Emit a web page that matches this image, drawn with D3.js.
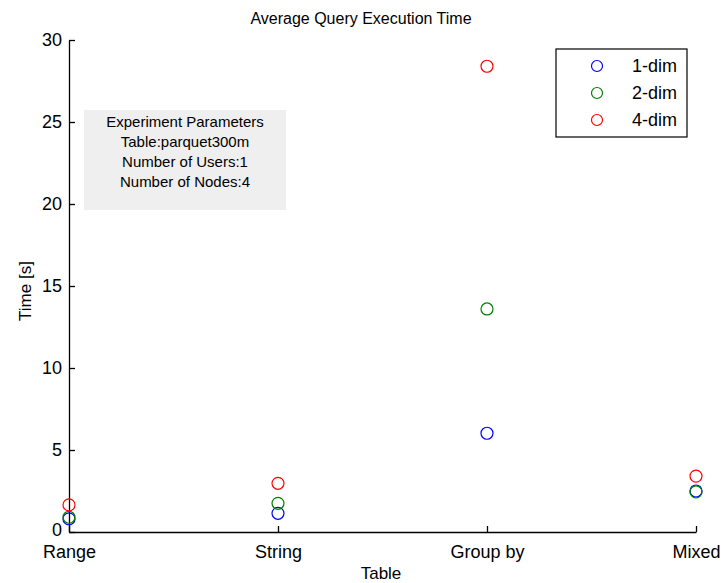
<!DOCTYPE html>
<html>
<head>
<meta charset="utf-8">
<script src="https://cdn.jsdelivr.net/npm/d3@7"></script>
<style>
  body { margin: 0; background: #fff; }
  svg { font-family: "Liberation Sans", Arial, sans-serif; }
</style>
</head>
<body>
<div id="chart"></div>
<script>
// data
var categories = ["Range", "String", "Group by", "Mixed"];
var dim1 = [0.8, 1.14, 6.02, 2.5];
var dim2 = [0.9, 1.75, 13.6, 2.45];
var dim4 = [1.65, 2.97, 28.4, 3.41];
var seriesNames = ["1-dim", "2-dim", "4-dim"];
var seriesColors = ["#0000ff", "#008000", "#ff0000"];
var yTicks = [0, 5, 10, 15, 20, 25, 30];
var infoLines = ["Experiment Parameters", "Table:parquet300m", "Number of Users:1", "Number of Nodes:4"];

var svgWidth = 721;
var svgHeight = 583;
var margin = { top: 40, right: 25, bottom: 51, left: 69 };
var width = svgWidth - margin.left - margin.right;
var height = svgHeight - margin.top - margin.bottom;

var svg = d3.select("#chart")
  .append("svg")
  .attr("width", svgWidth)
  .attr("height", svgHeight);

var chartGroup = svg.append("g")
  .attr("transform", `translate(${margin.left}, ${margin.top})`);

var xScale = d3.scalePoint()
  .domain(categories)
  .range([0, width]);

var yScale = d3.scaleLinear()
  .domain([0, 30])
  .range([height, 0]);

// axes, ticks pointing inward like matlab
var bottomAxis = d3.axisBottom(xScale).tickSizeInner(-6).tickSizeOuter(0).tickPadding(13);
var leftAxis = d3.axisLeft(yScale).tickValues(yTicks).tickSizeInner(-6).tickSizeOuter(0).tickPadding(7);

var xAxis = chartGroup.append("g")
  .attr("transform", `translate(0, ${height})`)
  .call(bottomAxis);
xAxis.selectAll("text").attr("font-size", "18px").attr("fill", "#000").attr("dy", "0.71em");

var yAxis = chartGroup.append("g").call(leftAxis);
yAxis.selectAll("text").attr("font-size", "18px").attr("fill", "#000");
// nudge the 0 up a little so it does not sit on "Range"
yAxis.selectAll(".tick text").filter(d => d === 0).attr("transform", "translate(0,-2)");

chartGroup.selectAll(".domain, .tick line").attr("stroke", "#000").attr("stroke-width", 1.3);

// info box
var box = chartGroup.append("g")
  .attr("transform", `translate(${84 - margin.left}, ${110 - margin.top})`);
box.append("rect")
  .attr("width", 202)
  .attr("height", 100)
  .attr("fill", "#efefef");
box.selectAll("text")
  .data(infoLines)
  .enter()
  .append("text")
  .attr("x", 101)
  .attr("y", (d, i) => 17 + i * 20)
  .attr("text-anchor", "middle")
  .attr("font-size", "15px")
  .text(d => d);

// points
var allSeries = [dim1, dim2, dim4];
allSeries.forEach(function(vals, s) {
  chartGroup.selectAll(null)
    .data(vals)
    .enter()
    .append("circle")
    .attr("cx", (d, i) => xScale(categories[i]))
    .attr("cy", d => yScale(d))
    .attr("r", 6)
    .attr("fill", "none")
    .attr("stroke", seriesColors[s])
    .attr("stroke-width", 1.2);
});

// title and axis labels
svg.append("text")
  .attr("x", 361)
  .attr("y", 24)
  .attr("text-anchor", "middle")
  .attr("font-size", "16px")
  .text("Average Query Execution Time");

svg.append("text")
  .attr("x", 381)
  .attr("y", 579)
  .attr("text-anchor", "middle")
  .attr("font-size", "17px")
  .text("Table");

svg.append("text")
  .attr("transform", "translate(31, 291) rotate(-90)")
  .attr("text-anchor", "middle")
  .attr("font-size", "17px")
  .text("Time [s]");

// legend
var legend = svg.append("g").attr("transform", "translate(556, 49)");
legend.append("rect")
  .attr("width", 131)
  .attr("height", 88)
  .attr("fill", "#fff")
  .attr("stroke", "#000")
  .attr("stroke-width", 1.2);
var rows = legend.selectAll("g.row")
  .data(seriesNames)
  .enter()
  .append("g")
  .attr("class", "row")
  .attr("transform", (d, i) => `translate(0, ${17 + i * 27})`);
rows.append("circle")
  .attr("cx", 41)
  .attr("r", 5.5)
  .attr("fill", "none")
  .attr("stroke", (d, i) => seriesColors[i])
  .attr("stroke-width", 1.2);
rows.append("text")
  .attr("x", 76)
  .attr("dy", "0.35em")
  .attr("font-size", "18px")
  .text(d => d);
</script>
</body>
</html>
